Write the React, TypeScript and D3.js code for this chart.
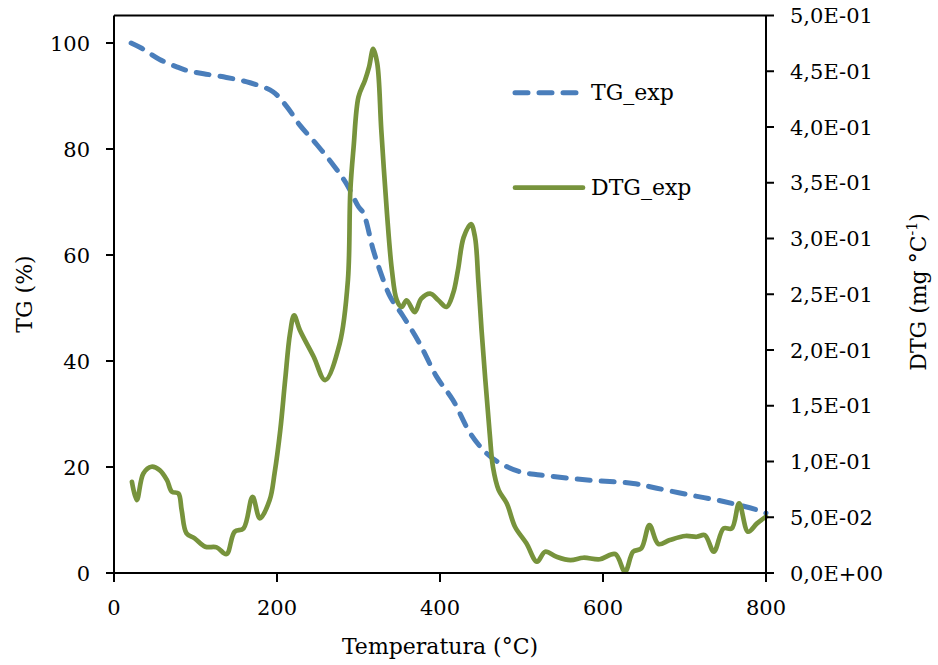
import React from "react";
import * as d3 from "d3";

const tgTemp = [21, 34, 56, 77, 90, 110, 138, 167, 195, 212, 228, 249, 269, 285, 300, 306, 318, 326, 339, 355, 375, 396, 416, 437, 457, 474, 498, 523, 584, 637, 666, 707, 748, 789, 800];
const tgValues = [100, 99, 96.9, 95.5, 94.8, 94.2, 93.5, 92.5, 90.8, 88, 84.5, 80.8, 77, 73.5, 69.1, 67.9, 61, 57.2, 52.1, 48.4, 43.3, 37, 32.6, 26.4, 22.6, 20.7, 19.1, 18.5, 17.5, 16.9, 16, 14.7, 13.5, 11.9, 11.3];

const dtgTemp = [22, 28, 36, 46, 56, 65, 71, 79, 83, 89, 99, 112, 126, 138, 148, 159, 170, 179, 191, 197, 204, 210, 216, 221, 228, 245, 259, 277, 287, 290, 294, 300, 308, 313, 318, 323, 328, 335, 341, 347, 353, 359, 369, 377, 388, 398, 408, 416, 422, 429, 438, 443, 447, 451, 461, 465, 472, 482, 492, 506, 519, 529, 543, 560, 576, 596, 615, 627, 637, 647, 657, 668, 682, 701, 715, 725, 736, 748, 758, 767, 778, 789, 800];
const dtgValues = [0.0818, 0.0654, 0.0893, 0.0953, 0.0923, 0.0833, 0.0729, 0.0714, 0.0565, 0.0356, 0.0311, 0.0236, 0.023, 0.017, 0.037, 0.04, 0.0684, 0.049, 0.0654, 0.0893, 0.128, 0.173, 0.215, 0.231, 0.218, 0.194, 0.173, 0.206, 0.2625, 0.343, 0.382, 0.427, 0.442, 0.454, 0.47, 0.457, 0.397, 0.322, 0.2715, 0.2446, 0.2386, 0.2446, 0.234, 0.246, 0.2506, 0.2446, 0.2386, 0.2506, 0.2715, 0.301, 0.313, 0.301, 0.2625, 0.2177, 0.125, 0.095, 0.0744, 0.0624, 0.0415, 0.0266, 0.0101, 0.0191, 0.0146, 0.0116, 0.0137, 0.0123, 0.017, 0.0012, 0.0191, 0.0221, 0.043, 0.026, 0.0296, 0.0332, 0.0325, 0.034, 0.0191, 0.04, 0.04, 0.0624, 0.037, 0.0445, 0.0505];

const xTicks = [0, 200, 400, 600, 800];
const leftTicks = [0, 20, 40, 60, 80, 100];
const rightTicks = [0, 0.05, 0.1, 0.15, 0.2, 0.25, 0.3, 0.35, 0.4, 0.45, 0.5];
const rightTickLabels = ["0,0E+00", "5,0E-02", "1,0E-01", "1,5E-01", "2,0E-01", "2,5E-01", "3,0E-01", "3,5E-01", "4,0E-01", "4,5E-01", "5,0E-01"];
const seriesNames = ["TG_exp", "DTG_exp"];

const W = 938, H = 665;
const L = 114, R = 766, T = 15.5, B = 573;
const FONT = "'DejaVu Serif', serif";
const FS = 21;
const FT = 22;
const BLUE = "#4A7EBB";
const GREEN = "#77933C";

export default function App() {
  const x = d3.scaleLinear().domain([0, 800]).range([L, R]);
  const yL = d3.scaleLinear().domain([0, 100]).range([B, B - 530]);
  const yR = d3.scaleLinear().domain([0, 0.5]).range([B, T]);

  const tgLine = d3.line<number>()
    .x((_, i) => x(tgTemp[i]))
    .y((d) => yL(d))
    .curve(d3.curveCatmullRom.alpha(0.5));
  const dtgLine = d3.line<number>()
    .x((_, i) => x(dtgTemp[i]))
    .y((d) => yR(d))
    .curve(d3.curveCatmullRom.alpha(0.5));

  return (
    <svg width={W} height={H} style={{ position: "absolute", left: 0, top: 0, background: "#fff" }}>
      <rect x={0} y={0} width={W} height={H} fill="#fff" />
      <path d={tgLine(tgValues) || ""} fill="none" stroke={BLUE} strokeWidth={5} strokeDasharray="13,11" strokeLinecap="round" />
      <path d={dtgLine(dtgValues) || ""} fill="none" stroke={GREEN} strokeWidth={4.7} strokeLinejoin="round" strokeLinecap="round" />

      <line x1={L} x2={R} y1={T} y2={T} stroke="#000" strokeWidth={2} />
      <line x1={L} x2={R} y1={B} y2={B} stroke="#000" strokeWidth={2} />
      <line x1={L} x2={L} y1={T} y2={B} stroke="#000" strokeWidth={2} />
      <line x1={R} x2={R} y1={T} y2={B} stroke="#000" strokeWidth={2} />

      {xTicks.map((t) => (
        <g key={"x" + t}>
          <line x1={x(t)} x2={x(t)} y1={B} y2={B + 9} stroke="#000" strokeWidth={2} />
          <text x={x(t)} y={B + 42} textAnchor="middle" fontFamily={FONT} fontSize={FS}>{t}</text>
        </g>
      ))}
      {leftTicks.map((t) => (
        <g key={"l" + t}>
          <line x1={L - 8} x2={L} y1={yL(t)} y2={yL(t)} stroke="#000" strokeWidth={2} />
          <text x={L - 24} y={yL(t) + 7.7} textAnchor="end" fontFamily={FONT} fontSize={FS}>{t}</text>
        </g>
      ))}
      {rightTicks.map((t, i) => (
        <g key={"r" + i}>
          <line x1={R} x2={R + 8} y1={yR(t)} y2={yR(t)} stroke="#000" strokeWidth={2} />
          <text x={R + 24} y={yR(t) + 7.7} textAnchor="start" fontFamily={FONT} fontSize={FS}>{rightTickLabels[i]}</text>
        </g>
      ))}

      <text x={440} y={654} textAnchor="middle" fontFamily={FONT} fontSize={FT}>Temperatura (°C)</text>
      <text transform={`translate(32, 294) rotate(-90)`} textAnchor="middle" fontFamily={FONT} fontSize={FT}>TG (%)</text>
      <text transform={`translate(926, 292) rotate(-90)`} textAnchor="middle" fontFamily={FONT} fontSize={FT}>
        DTG (mg °C<tspan dy={-9} fontSize={14}>-1</tspan><tspan dy={9}>)</tspan>
      </text>

      <line x1={515} x2={576} y1={92.7} y2={92.7} stroke={BLUE} strokeWidth={5} strokeDasharray="13,11" strokeLinecap="round" />
      <text x={591} y={100} fontFamily={FONT} fontSize={FT}>{seriesNames[0]}</text>
      <line x1={515} x2={583} y1={187.7} y2={187.7} stroke={GREEN} strokeWidth={4.7} strokeLinecap="round" />
      <text x={591} y={195} fontFamily={FONT} fontSize={FT}>{seriesNames[1]}</text>
    </svg>
  );
}
